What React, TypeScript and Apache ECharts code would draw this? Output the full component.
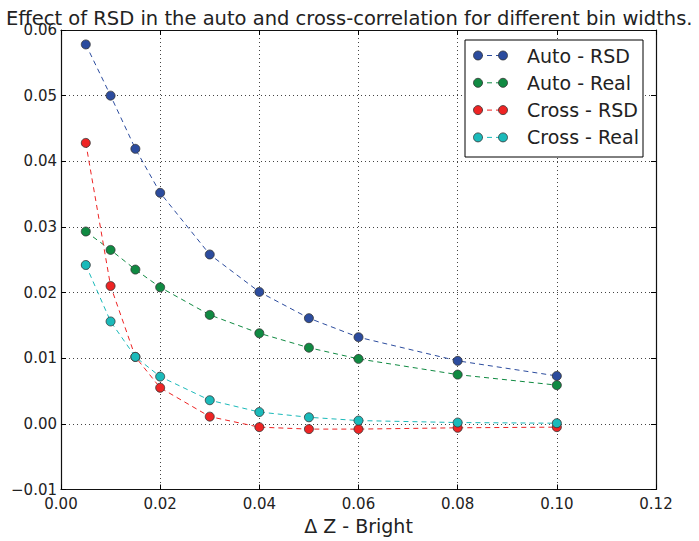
import React, { useEffect, useRef } from 'react';
import * as echarts from 'echarts';

const binWidths = [0.005, 0.01, 0.015, 0.02, 0.03, 0.04, 0.05, 0.06, 0.08, 0.1];
const autoRsd = [0.0578, 0.05, 0.0419, 0.0352, 0.0258, 0.0201, 0.0161, 0.0132, 0.0096, 0.0073];
const autoReal = [0.0293, 0.0265, 0.0235, 0.0208, 0.0166, 0.0138, 0.0116, 0.0099, 0.0075, 0.0059];
const crossRsd = [0.0428, 0.021, 0.0102, 0.0055, 0.0011, -0.0005, -0.0008, -0.0008, -0.0006, -0.0005];
const crossReal = [0.0242, 0.0156, 0.0102, 0.0072, 0.0036, 0.0018, 0.001, 0.0005, 0.0002, 0.0001];
const seriesNames = ['Auto - RSD', 'Auto - Real', 'Cross - RSD', 'Cross - Real'];
const seriesColors = ['#2c4c9e', '#108a42', '#ee2424', '#1bbaba'];
const seriesData = [autoRsd, autoReal, crossRsd, crossReal];
const titleText = 'Effect of RSD in the auto and cross-correlation for different bin widths.';
const xAxisName = 'Δ Z - Bright';

const FONT = 'DejaVu Sans';

export default function App() {
  const ref = useRef<HTMLDivElement>(null);
  useEffect(() => {
    if (!ref.current) return;
    const chart = echarts.init(ref.current, null, { renderer: 'svg' });
    const fmt = (v: number) => {
      const s = Math.abs(v).toFixed(2);
      return v < -1e-9 ? '\u2212' + s : s;
    };
    const gridLine = { show: true, lineStyle: { color: '#444', width: 1, type: [1, 3] as any } };
    const axisLine = { show: true, onZero: false, lineStyle: { color: '#111', width: 1.2 } };
    const tick = { show: true, inside: true, length: 5, lineStyle: { color: '#000', width: 1 } };
    const label = { color: '#222', fontFamily: FONT, fontSize: 15 };

    const legendGraphics: any[] = [
      {
        type: 'rect',
        shape: { x: 465, y: 40, width: 178, height: 117 },
        style: { fill: '#fff', stroke: '#000', lineWidth: 1 },
        z: 100,
      },
    ];
    seriesNames.forEach((name, i) => {
      const y = 55.5 + i * 27.3;
      legendGraphics.push({
        type: 'line',
        shape: { x1: 478, y1: y, x2: 503, y2: y },
        style: { stroke: seriesColors[i], lineWidth: 1, lineDash: [5, 4] },
        z: 101,
      });
      [478, 503].forEach((cx) =>
        legendGraphics.push({
          type: 'circle',
          shape: { cx, cy: y, r: 4.5 },
          style: { fill: seriesColors[i], stroke: '#333', lineWidth: 0.8 },
          z: 102,
        })
      );
      legendGraphics.push({
        type: 'text',
        x: 527,
        y,
        style: { text: name, fontFamily: FONT, fontSize: 19, fill: '#222', textVerticalAlign: 'middle' },
        z: 102,
      });
    });

    chart.setOption({
      animation: false,
      backgroundColor: '#fff',
      title: {
        text: titleText,
        left: 1,
        top: 3,
        textStyle: { fontFamily: FONT, fontSize: 19.5, fontWeight: 'normal', color: '#222' },
      },
      grid: { left: 61, right: 43, top: 30, bottom: 51.5 },
      xAxis: [
        {
          type: 'value',
          min: 0,
          max: 0.12,
          interval: 0.02,
          position: 'bottom',
          axisLine,
          axisTick: tick,
          splitLine: gridLine,
          axisLabel: { ...label, margin: 7, formatter: fmt },
          name: xAxisName,
          nameLocation: 'middle',
          nameGap: 26,
          nameTextStyle: { fontFamily: FONT, fontSize: 19, color: '#222' },
        },
        {
          type: 'value',
          min: 0,
          max: 0.12,
          interval: 0.02,
          position: 'top',
          axisLine,
          axisTick: tick,
          splitLine: { show: false },
          axisLabel: { show: false },
        },
      ],
      yAxis: [
        {
          type: 'value',
          min: -0.01,
          max: 0.06,
          interval: 0.01,
          position: 'left',
          axisLine,
          axisTick: tick,
          splitLine: gridLine,
          axisLabel: { ...label, margin: 4, formatter: fmt },
        },
        {
          type: 'value',
          min: -0.01,
          max: 0.06,
          interval: 0.01,
          position: 'right',
          axisLine,
          axisTick: tick,
          splitLine: { show: false },
          axisLabel: { show: false },
        },
      ],
      series: seriesNames.map((name, i) => ({
        name,
        type: 'line',
        data: binWidths.map((x, j) => [x, seriesData[i][j]]),
        symbol: 'circle',
        symbolSize: 9,
        lineStyle: { color: seriesColors[i], width: 1, type: [5, 4] },
        itemStyle: { color: seriesColors[i], borderColor: '#333', borderWidth: 0.8 },
        z: 10 + i,
      })),
      graphic: legendGraphics,
    });
    return () => chart.dispose();
  }, []);
  return <div ref={ref} style={{ position: 'absolute', left: 0, top: 0, width: 699, height: 541 }} />;
}
